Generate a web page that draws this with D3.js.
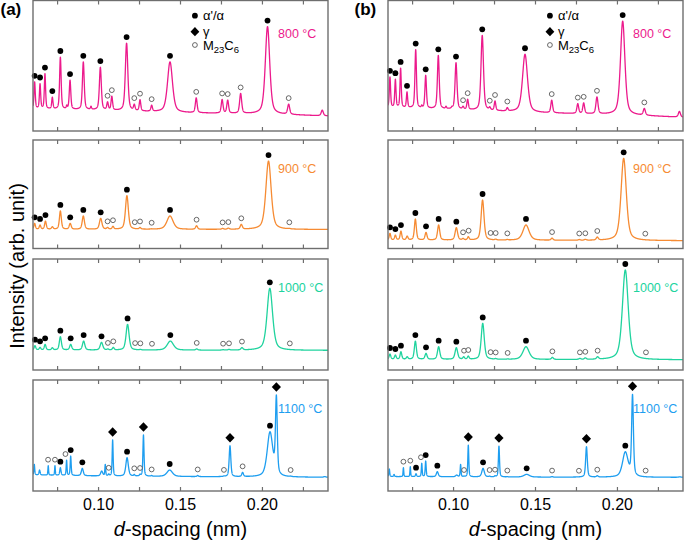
<!DOCTYPE html>
<html><head><meta charset="utf-8">
<script src="https://cdn.jsdelivr.net/npm/d3@7"></script>
<style>body{margin:0;background:#fff}svg{display:block}</style>
</head><body>
<svg id="c" width="685" height="544"></svg>
<script>
// ---------------- data ----------------
const xDomain = [0.06, 0.24];
const xMajorTicks = [0.10, 0.15, 0.20];
const xMinorTicks = [0.075, 0.125, 0.175, 0.225];
const temps = ["800 °C", "900 °C", "1000 °C", "1100 °C"];
const panelLetters = ["(a)", "(b)"];
const legendLabels = ["α'/α", "γ", "M23C6"];

// peaks: [d-spacing (nm), apex intensity (a.u.), FWHM (nm)]
const peaksA800 = [[0.0610,37.7,0.0009],[0.0643,36.4,0.0009],[0.0673,44,0.0009],[0.0718,26,0.0009],[0.0767,56.7,0.0011],[0.0806,20,0.0007],[0.0826,39,0.0011],[0.0907,53,0.0013],[0.0954,19,0.0008],[0.0990,18,0.0008],[0.1011,49,0.0014],[0.1055,22.4,0.0011],[0.1081,26.7,0.0011],[0.1171,67.4,0.0018],[0.1218,20.6,0.0011],[0.1253,24,0.0011],[0.1324,19.8,0.0011],[0.1436,53,0.0036],[0.1596,25.4,0.0013],[0.1754,24.2,0.0013],[0.1788,23.7,0.0013],[0.1867,28.8,0.0015],[0.2031,80,0.0032],[0.2160,20.6,0.0015],[0.2365,16,0.0015]];
const baseA800 = [[0.06,17],[0.10,16],[0.15,14],[0.20,13],[0.24,11.5]];
const alphaA800 = [0.0610,0.0643,0.0673,0.0718,0.0767,0.0826,0.0907,0.1011,0.1171,0.1436,0.2031];
const carbA800 = [0.1055,0.1081,0.1218,0.1253,0.1324,0.1596,0.1754,0.1788,0.1867,0.2160];

const peaksA900 = [[0.0610,23.2,0.0011],[0.0643,21.7,0.0011],[0.0676,25.3,0.0012],[0.0718,20.1,0.0012],[0.0767,34.6,0.0014],[0.0827,23.2,0.0014],[0.0907,30,0.0016],[0.1013,27.8,0.0018],[0.1055,19.5,0.0012],[0.1088,20.5,0.0012],[0.1173,48.7,0.0021],[0.1221,18.4,0.0012],[0.1253,19.4,0.0012],[0.1324,18.2,0.0012],[0.1436,30,0.0045],[0.1598,21,0.0014],[0.1757,18.5,0.0014],[0.1792,18.8,0.0014],[0.1871,22.3,0.0015],[0.2037,80.6,0.0038],[0.2164,18.6,0.0015]];
const baseA900 = [[0.06,17.7],[0.24,17.5]];
const alphaA900 = [0.0610,0.0643,0.0676,0.0767,0.0827,0.0907,0.1013,0.1173,0.1436,0.2037];
const carbA900 = [0.1055,0.1088,0.1221,0.1253,0.1324,0.1598,0.1757,0.1792,0.1871,0.2164];

const peaksA1000 = [[0.0612,21.9,0.0012],[0.0643,20.4,0.0012],[0.0674,23.1,0.0012],[0.0718,20.1,0.0012],[0.0767,30,0.0015],[0.0830,23.1,0.0015],[0.0909,26.1,0.0017],[0.1018,24.9,0.0019],[0.1057,19,0.0012],[0.1090,20.4,0.0012],[0.1177,41.1,0.0022],[0.1223,18.3,0.0012],[0.1255,18.6,0.0012],[0.1326,18.2,0.0012],[0.1438,26.1,0.0045],[0.1599,19,0.0014],[0.1760,18.3,0.0014],[0.1796,18.6,0.0014],[0.1875,20.2,0.0015],[0.2045,73.6,0.0040],[0.2167,18.4,0.0015]];
const baseA1000 = [[0.06,18],[0.24,17.7]];
const alphaA1000 = [0.0612,0.0643,0.0674,0.0767,0.0830,0.0909,0.1018,0.1177,0.1438,0.2045];
const carbA1000 = [0.1057,0.1090,0.1223,0.1255,0.1326,0.1599,0.1760,0.1796,0.1875,0.2167];

const peaksA1100 = [[0.0608,24,0.0006],[0.0640,18.9,0.0008],[0.0693,22.8,0.0005],[0.0734,22.8,0.0005],[0.0767,21,0.0009],[0.0805,27.9,0.0006],[0.0830,31.5,0.0007],[0.0901,20.4,0.0014],[0.1019,18,0.0015],[0.1041,24,0.0006],[0.1062,15.5,0.0008],[0.1086,46,0.0007],[0.1174,30,0.0018],[0.1218,15,0.0008],[0.1253,15.3,0.0008],[0.1274,50.5,0.0008],[0.1324,14,0.0008],[0.1434,18.9,0.0040],[0.1605,14,0.0010],[0.1765,13.6,0.0010],[0.1802,40.8,0.0012],[0.1879,16.8,0.0012],[0.2046,53.4,0.0040],[0.2085,86.5,0.0013],[0.2172,13.5,0.0012],[0.2380,13,0.0015]];
const baseA1100 = [[0.06,14.5],[0.10,13.5],[0.15,13],[0.24,12.3]];
const alphaA1100 = [0.0767,0.0830,0.0901,0.1174,0.1434,0.2046];
const gammaA1100 = [0.1086,0.1274,0.1802,0.2085];
const carbA1100 = [0.0692,0.0734,0.0798,0.1062,0.1218,0.1253,0.1324,0.1605,0.1765,0.1879,0.2172];

const peaksB800 = [[0.0612,41.5,0.0009],[0.0645,39.7,0.0009],[0.0677,48.3,0.0009],[0.0716,30,0.0009],[0.0769,62.4,0.0011],[0.0806,20,0.0007],[0.0830,42.7,0.0011],[0.0907,58,0.0013],[0.0954,19,0.0008],[0.0990,19,0.0008],[0.1015,52.4,0.0014],[0.1058,19,0.0011],[0.1086,24.4,0.0011],[0.1175,73.3,0.0018],[0.1221,18.6,0.0011],[0.1253,23,0.0011],[0.1328,18,0.0011],[0.1436,58.8,0.0036],[0.1599,23.7,0.0013],[0.1758,21,0.0013],[0.1794,21.6,0.0013],[0.1875,26.2,0.0015],[0.2032,84.2,0.0032],[0.2164,17.3,0.0015],[0.2378,15,0.0015]];
const baseB800 = [[0.06,18],[0.10,16.5],[0.15,14],[0.20,12.5],[0.24,10.5]];
const alphaB800 = [0.0612,0.0645,0.0677,0.0716,0.0769,0.0830,0.0907,0.1015,0.1175,0.1436,0.2032];
const carbB800 = [0.1058,0.1086,0.1221,0.1253,0.1328,0.1599,0.1758,0.1794,0.1875,0.2164];

const peaksB900 = [[0.0612,14,0.0011],[0.0645,12.4,0.0011],[0.0679,16.1,0.0012],[0.0717,11.5,0.0012],[0.0767,27.2,0.0014],[0.0832,14.9,0.0014],[0.0909,21.7,0.0016],[0.1017,19.2,0.0018],[0.1058,9.4,0.0012],[0.1090,10.9,0.0012],[0.1177,44.7,0.0021],[0.1226,8.1,0.0012],[0.1257,8.7,0.0012],[0.1328,8.4,0.0012],[0.1442,21.7,0.0045],[0.1601,9.6,0.0014],[0.1767,8.3,0.0014],[0.1804,8.5,0.0014],[0.1877,10.6,0.0015],[0.2038,83.1,0.0038],[0.2170,8,0.0015]];
const baseB900 = [[0.06,7.8],[0.24,7.2]];
const alphaB900 = [0.0612,0.0645,0.0679,0.0767,0.0832,0.0909,0.1017,0.1177,0.1442,0.2038];
const carbB900 = [0.1058,0.1092,0.1226,0.1257,0.1328,0.1601,0.1767,0.1804,0.1877,0.2170];

const peaksB1000 = [[0.0612,14.4,0.0012],[0.0645,13.5,0.0012],[0.0679,16.5,0.0012],[0.0717,12,0.0012],[0.0767,26.1,0.0015],[0.0832,15,0.0015],[0.0909,21,0.0017],[0.1017,20.1,0.0019],[0.1062,12,0.0012],[0.1090,12.6,0.0012],[0.1178,42,0.0022],[0.1226,10,0.0012],[0.1257,10.4,0.0012],[0.1330,10,0.0012],[0.1442,21,0.0045],[0.1603,11.4,0.0014],[0.1771,10.5,0.0014],[0.1804,11,0.0014],[0.1879,12,0.0015],[0.2048,90.1,0.0042],[0.2174,10,0.0015]];
const baseB1000 = [[0.06,9.6],[0.24,9.2]];
const alphaB1000 = [0.0612,0.0645,0.0679,0.0767,0.0832,0.0909,0.1017,0.1178,0.1442,0.2048];
const carbB1000 = [0.1064,0.1090,0.1226,0.1257,0.1330,0.1603,0.1771,0.1804,0.1879,0.2174];

const peaksB1100 = [[0.0608,19.8,0.0006],[0.0637,15,0.0006],[0.0694,21,0.0005],[0.0736,21.9,0.0005],[0.0771,15.6,0.0008],[0.0806,25,0.0006],[0.0830,27,0.0007],[0.0901,17.4,0.0014],[0.1019,14.4,0.0015],[0.1043,24,0.0006],[0.1064,13.5,0.0008],[0.1090,41.4,0.0007],[0.1180,20.4,0.0018],[0.1220,13.5,0.0008],[0.1253,13.8,0.0008],[0.1277,40.5,0.0008],[0.1328,13,0.0008],[0.1446,15,0.0040],[0.1601,13,0.0010],[0.1765,12.8,0.0010],[0.1811,39.9,0.0012],[0.1877,13.8,0.0012],[0.2048,35.4,0.0040],[0.2092,87.1,0.0013],[0.2172,12.6,0.0012],[0.2380,12.8,0.0015]];
const baseB1100 = [[0.06,13],[0.15,12.5],[0.24,12.3]];
const alphaB1100 = [0.0771,0.0830,0.0901,0.1180,0.1446,0.2048];
const gammaB1100 = [0.1090,0.1277,0.1811,0.2092];
const carbB1100 = [0.0694,0.0736,0.0801,0.1064,0.1220,0.1253,0.1328,0.1601,0.1765,0.1877,0.2172];

// ---------------- layout / style ----------------
const FONT = "'Liberation Sans', Arial, Helvetica, sans-serif";
const colors = ["#EC1A8C", "#F68B33", "#20D39E", "#1E9EF0"];
const frameColor = "#6e6e6e";
const cols = [{l:33, r:328}, {l:388, r:683}];
const rows = [{t:0.5, b:131, lab:37.5}, {t:140, b:248.5, lab:32.5}, {t:259, b:370, lab:33}, {t:380, b:491, lab:33}];

const panels = [
  {c:0,r:0,peaks:peaksA800,base:baseA800,alpha:alphaA800,carb:carbA800,gamma:[]},
  {c:0,r:1,peaks:peaksA900,base:baseA900,alpha:alphaA900,carb:carbA900,gamma:[]},
  {c:0,r:2,peaks:peaksA1000,base:baseA1000,alpha:alphaA1000,carb:carbA1000,gamma:[]},
  {c:0,r:3,peaks:peaksA1100,base:baseA1100,alpha:alphaA1100,carb:carbA1100,gamma:gammaA1100},
  {c:1,r:0,peaks:peaksB800,base:baseB800,alpha:alphaB800,carb:carbB800,gamma:[]},
  {c:1,r:1,peaks:peaksB900,base:baseB900,alpha:alphaB900,carb:carbB900,gamma:[]},
  {c:1,r:2,peaks:peaksB1000,base:baseB1000,alpha:alphaB1000,carb:carbB1000,gamma:[]},
  {c:1,r:3,peaks:peaksB1100,base:baseB1100,alpha:alphaB1100,carb:carbB1100,gamma:gammaB1100}
];

const svg = d3.select("#c");

function profile(x, p) {
  const t = (x - p[0]) / (p[2] / 2);
  return 0.5 / (1 + t * t) + 0.5 * Math.exp(-Math.LN2 * t * t);
}
function buildCurve(peaks, base) {
  const bx = d3.scaleLinear().domain(base.map(b => b[0])).range(base.map(b => b[1]));
  let h = peaks.map(p => p[1] - bx(p[0]));
  for (let it = 0; it < 40; it++) {
    const cur = peaks.map(p => bx(p[0]) + d3.sum(peaks, (q, j) => h[j] * profile(p[0], q)));
    h = h.map((v, i) => Math.max(0, v + 0.7 * (peaks[i][1] - cur[i])));
  }
  const f = x => bx(x) + d3.sum(peaks, (q, j) => h[j] * profile(x, q));
  const xs = d3.range(xDomain[0], xDomain[1] + 1e-9, 0.00004);
  return {f, pts: xs.map(x => [x, f(x)])};
}
function localMax(f, d) {
  let m = -Infinity;
  for (let x = d - 0.0007; x <= d + 0.0007; x += 0.00005) m = Math.max(m, f(x));
  return m;
}

panels.forEach(P => {
  const col = cols[P.c], row = rows[P.r];
  const x = d3.scaleLinear().domain(xDomain).range([col.l, col.r]);
  const y = d3.scaleLinear().domain([0, 100]).range([row.b, row.t]);
  const g = svg.append("g");
  const clipId = `clip${P.c}${P.r}`;
  g.append("clipPath").attr("id", clipId).append("rect")
    .attr("x", col.l).attr("y", row.t).attr("width", col.r - col.l).attr("height", row.b - row.t);

  const cv = buildCurve(P.peaks, P.base);
  g.append("path").attr("clip-path", `url(#${clipId})`)
    .attr("d", d3.line().x(d => x(d[0])).y(d => y(d[1]))(cv.pts))
    .attr("fill", "none").attr("stroke", colors[P.r]).attr("stroke-width", 1.3)
    .attr("stroke-linejoin", "round");

  // markers
  P.alpha.forEach(d => {
    g.append("circle").attr("cx", x(d)).attr("cy", y(localMax(cv.f, d)) - 6)
      .attr("r", 2.9).attr("fill", "#000");
  });
  P.carb.forEach(d => {
    g.append("circle").attr("cx", x(d)).attr("cy", y(localMax(cv.f, d)) - 6)
      .attr("r", 2.4).attr("fill", "#fff").attr("stroke", "#444").attr("stroke-width", 0.8);
  });
  P.gamma.forEach(d => {
    const cx = x(d), cy = y(localMax(cv.f, d)) - 8;
    g.append("path").attr("d", `M${cx},${cy-4.8}L${cx+4.6},${cy}L${cx},${cy+4.8}L${cx-4.6},${cy}Z`).attr("fill", "#000");
  });

  // frame & ticks
  g.append("rect").attr("x", col.l).attr("y", row.t).attr("width", col.r - col.l).attr("height", row.b - row.t)
    .attr("fill", "none").attr("stroke", frameColor).attr("stroke-width", 1.4);
  xMajorTicks.concat(xMinorTicks).forEach(t => {
    g.append("line").attr("x1", x(t)).attr("x2", x(t)).attr("y1", row.t).attr("y2", row.t + 4)
      .attr("stroke", frameColor).attr("stroke-width", 1.2);
    g.append("line").attr("x1", x(t)).attr("x2", x(t)).attr("y1", row.b).attr("y2", row.b - 4)
      .attr("stroke", frameColor).attr("stroke-width", 1.2);
  });

  // temperature label
  g.append("text").attr("x", x(0.2095)).attr("y", row.t + row.lab)
    .attr("font-family", FONT).attr("font-size", 12.5).attr("fill", colors[P.r]).text(temps[P.r]);

  if (P.r === 3) {
    xMajorTicks.forEach(t => {
      g.append("text").attr("x", x(t)).attr("y", 510).attr("text-anchor", "middle")
        .attr("font-family", FONT).attr("font-size", 16).attr("fill", "#000").text(d3.format(".2f")(t));
    });
    const tt = g.append("text").attr("x", x(0.15)).attr("y", 536).attr("text-anchor", "middle")
      .attr("font-family", FONT).attr("font-size", 20).attr("fill", "#000");
    tt.append("tspan").attr("font-style", "italic").text("d");
    tt.append("tspan").text("-spacing (nm)");
  }
  if (P.r === 0) {
    // legend
    const lx = x(0.1588);
    const ly = [15.7, 31.7, 45];
    g.append("circle").attr("cx", lx).attr("cy", ly[0]).attr("r", 2.9).attr("fill", "#000");
    g.append("path").attr("d", `M${lx},${ly[1]-4.6}L${lx+4.4},${ly[1]}L${lx},${ly[1]+4.6}L${lx-4.4},${ly[1]}Z`).attr("fill", "#000");
    g.append("circle").attr("cx", lx).attr("cy", ly[2]).attr("r", 2.4).attr("fill", "#fff").attr("stroke", "#444").attr("stroke-width", 0.8);
    const tx = lx + 8;
    g.append("text").attr("x", tx).attr("y", ly[0] + 4.6).attr("font-family", FONT).attr("font-size", 13).text(legendLabels[0]);
    g.append("text").attr("x", tx).attr("y", ly[1] + 4.2).attr("font-family", FONT).attr("font-size", 13).text(legendLabels[1]);
    const m = g.append("text").attr("x", tx).attr("y", ly[2] + 4.6).attr("font-family", FONT).attr("font-size", 13);
    m.append("tspan").text("M");
    m.append("tspan").attr("font-size", 9.5).attr("dy", 3).text("23");
    m.append("tspan").attr("dy", -3).text("C");
    m.append("tspan").attr("font-size", 9.5).attr("dy", 3).text("6");
    // panel letter
    svg.append("text").attr("x", P.c === 0 ? 0.5 : 354.5).attr("y", 15)
      .attr("font-family", FONT).attr("font-weight", "bold").attr("font-size", 17).text(panelLetters[P.c]);
  }
});

// y-axis title
svg.append("text").attr("transform", "translate(24,266) rotate(-90)").attr("text-anchor", "middle")
  .attr("font-family", FONT).attr("font-size", 20).attr("fill", "#000").text("Intensity (arb. unit)");
</script>
</body></html>
